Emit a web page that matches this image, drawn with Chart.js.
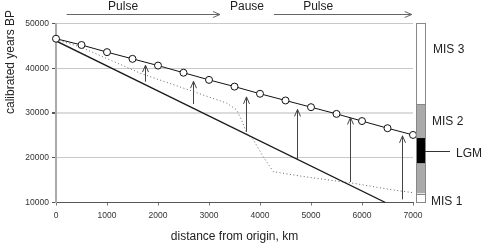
<!DOCTYPE html>
<html><head><meta charset="utf-8">
<script src="https://cdn.jsdelivr.net/npm/chart.js@4/dist/chart.umd.min.js"></script>
<style>html,body{margin:0;padding:0;background:#fff}#c{display:block}</style>
</head><body>
<canvas id="c" width="484" height="246"></canvas>
<script>
// ---- data ----
const distances = [0,500,1000,1500,2000,2500,3000,3500,4000,4500,5000,5500,6000,6500,7000];
const circleYears = [46600,45200,43600,42100,40600,39000,37400,35900,34300,32800,31300,29800,28200,26600,25100];
const solidDist = [0,6460];
const solidYears = [46100,10000];
const dottedDist = [0,470,1650,3350,3540,3640,3740,3870,4065,4260,4850,5830,6610,7000];
const dottedYears = [46400,44800,38900,32200,30700,28400,25500,24000,20200,16900,15800,14300,12800,12200];
const arrowX = [1750,2690,3725,4730,5765,6780];
const arrowFrom = [37000,32000,25800,19700,14600,10700];
const arrowTo = [40700,37100,33600,30800,29000,24900];
const phaseLabels = ['Pulse','Pause','Pulse'];
const phaseCenters = [1315,3745,5140];
const phaseArrowStart = [210,4275];
const phaseArrowEnd = [3215,6975];
const misNames = ['MIS 3','MIS 2','MIS 1'];
const misTop = [50000,32000,12000];
const misBottom = [32000,12000,10000];
const lgmRange = [24400,18800];
const xTicks = [0,1000,2000,3000,4000,5000,6000,7000];
const yTicks = [10000,20000,30000,40000,50000];

const FONT = '"Liberation Sans", Arial, sans-serif';
const pts = (xs, ys) => xs.map((x,i)=>({x, y: ys[i]}));

function arrowHead(ctx, x, y, dir){ // dir: 'up' or 'right'
  ctx.beginPath();
  if(dir==='up'){ ctx.moveTo(x-3,y+7); ctx.lineTo(x,y); ctx.lineTo(x+3,y+7); }
  else { ctx.moveTo(x-7,y-3); ctx.lineTo(x,y); ctx.lineTo(x-7,y+3); }
  ctx.stroke();
}

const decor = {
  id:'decor',
  afterDatasetsDraw(chart){
    const ctx = chart.ctx, xs = chart.scales.x, ys = chart.scales.y;
    ctx.save();
    // vertical arrows
    ctx.strokeStyle = '#444'; ctx.lineWidth = 1;
    arrowX.forEach((v,i)=>{
      const px = Math.round(xs.getPixelForValue(v))+0.5;
      const y0 = ys.getPixelForValue(arrowFrom[i]), y1 = ys.getPixelForValue(arrowTo[i]);
      ctx.beginPath(); ctx.moveTo(px,y0); ctx.lineTo(px,y1); ctx.stroke();
      arrowHead(ctx, px, y1, 'up');
    });
    // phase arrows and labels
    ctx.strokeStyle = '#666';
    phaseArrowStart.forEach((s,i)=>{
      const a = xs.getPixelForValue(s), b = xs.getPixelForValue(phaseArrowEnd[i]);
      ctx.beginPath(); ctx.moveTo(a,14.5); ctx.lineTo(b,14.5); ctx.stroke();
      arrowHead(ctx, b, 14.5, 'right');
    });
    ctx.fillStyle = '#222'; ctx.font = '12px '+FONT; ctx.textAlign='center'; ctx.textBaseline='middle';
    phaseLabels.forEach((t,i)=>ctx.fillText(t, xs.getPixelForValue(phaseCenters[i]), 7));
    // MIS bar
    const bx = 416, bw = 9;
    misNames.forEach((n,i)=>{
      const t = ys.getPixelForValue(misTop[i]), b = ys.getPixelForValue(misBottom[i]);
      ctx.fillStyle = (n==='MIS 2') ? '#aaaaaa' : '#ffffff';
      ctx.fillRect(bx, t, bw, b-t);
    });
    const lt = ys.getPixelForValue(lgmRange[0]), lb = ys.getPixelForValue(lgmRange[1]);
    ctx.fillStyle = '#000'; ctx.fillRect(bx, lt, bw, lb-lt);
    ctx.strokeStyle = '#888'; ctx.lineWidth = 1;
    ctx.strokeRect(bx+0.5, ys.getPixelForValue(50000), bw, ys.getPixelForValue(10000)-ys.getPixelForValue(50000));
    misTop.slice(1).forEach(v=>{ const y=Math.round(ys.getPixelForValue(v))+0.5; ctx.beginPath(); ctx.moveTo(bx,y); ctx.lineTo(bx+bw,y); ctx.stroke(); });
    // LGM connector
    const lm = (lt+lb)/2;
    ctx.strokeStyle = '#333';
    ctx.beginPath(); ctx.moveTo(bx+bw, Math.round(lm)+0.5); ctx.lineTo(450, Math.round(lm)+0.5); ctx.stroke();
    // MIS labels
    ctx.fillStyle = '#222'; ctx.font = '12px '+FONT; ctx.textAlign='left'; ctx.textBaseline='middle';
    ctx.fillText('MIS 3', 433, 50);
    ctx.fillText('MIS 2', 432, 122);
    ctx.fillText('LGM', 456, 154);
    ctx.fillText('MIS 1', 431, 202);
    // axis titles
    ctx.textAlign='center';
    ctx.fillText('distance from origin, km', 234.5, 237);
    ctx.translate(11, 62); ctx.rotate(-Math.PI/2);
    ctx.fillText('calibrated years BP', 0, 0);
    ctx.restore();
  }
};

new Chart(document.getElementById('c'), {
  type:'line',
  data:{ datasets:[
    { data: pts(distances, circleYears), borderColor:'#111', borderWidth:1, pointRadius:3.5, pointHoverRadius:3.5,
      pointBackgroundColor:'#fff', pointBorderColor:'#111', pointBorderWidth:1, clip:false, order:0 },
    { data: pts(solidDist, solidYears), borderColor:'#1a1a1a', borderWidth:1.3, pointRadius:0, order:1 },
    { data: pts(dottedDist, dottedYears), borderColor:'#666', borderWidth:1, borderDash:[1,2.5], pointRadius:0, order:2 }
  ]},
  options:{
    responsive:false, animation:false, devicePixelRatio:1,
    layout:{ padding:{ top:23.5, right:71, left:0, bottom:0 } },
    plugins:{ legend:{display:false}, tooltip:{enabled:false} },
    elements:{ line:{ tension:0 } },
    scales:{
      x:{ type:'linear', min:0, max:7000,
        afterBuildTicks: s => { s.ticks = xTicks.map(v=>({value:v})); },
        afterFit: s => { s.height = 43.5; },
        border:{ color:'#555', width:1 },
        grid:{ drawOnChartArea:false, drawTicks:true, tickLength:3, tickColor:'#777' },
        ticks:{ font:{ family:FONT, size:8.5 }, color:'#333', padding:5, maxRotation:0, callback: v => String(v) } },
      y:{ type:'linear', min:10000, max:50000,
        afterBuildTicks: s => { s.ticks = yTicks.map(v=>({value:v})); },
        afterFit: s => { s.width = 56; },
        border:{ color:'#aaa', width:2 },
        grid:{ color: c => c.tick && c.tick.value===10000 ? 'rgba(0,0,0,0)' : (c.tick && c.tick.value===30000 ? '#dcdcdc' : '#c8c8c8'),
               lineWidth: c => c.tick && c.tick.value===30000 ? 2 : 1,
               drawTicks:true, tickLength:4, tickColor:'#555' },
        ticks:{ font:{ family:FONT, size:8.5 }, color:'#333', padding:3, callback: v => String(v) } }
    }
  },
  plugins:[decor]
});
</script>
</body></html>
